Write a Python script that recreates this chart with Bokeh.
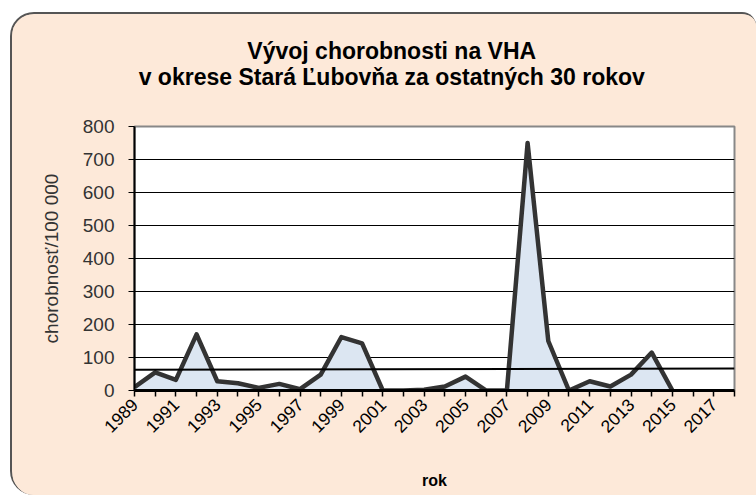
import numpy as np
from bokeh.plotting import figure
from bokeh.layouts import column
from bokeh.models import Range1d, FixedTicker
from bokeh.core.properties import value
from bokeh.embed import file_html
from bokeh.resources import INLINE
from math import pi

years = list(range(1989, 2016))
values = [10, 55, 32, 170, 28, 22, 8, 20, 4, 48, 162, 143, 0, 0, 2, 12,
          42, 0, 0, 750, 150, 0, 28, 12, 48, 115, 0]
trend_x = [1989, 2018]
trend_y = [63, 67]
x_ticks = list(range(1989, 2019))
y_ticks = list(range(0, 801, 100))
title_lines = ["Vývoj chorobnosti na VHA",
               "v okrese Stará Ľubovňa za ostatných 30 rokov"]

BG = "#fde9d9"
W = 744
TH = 100

# title strip (SVG text)
t = figure(width=W, height=TH, output_backend="svg", toolbar_location=None,
           x_range=Range1d(0, W), y_range=Range1d(0, TH),
           x_axis_location=None, y_axis_location=None, min_border=0)
t.grid.visible = False
t.outline_line_color = None
t.background_fill_color = BG
t.border_fill_color = BG
t.text(x=[319, 319], y=[TH - 36, TH - 62], text=title_lines, text_align="center",
       text_baseline="middle", text_font=value("Liberation Sans"),
       text_font_size="23px", text_font_style="bold", text_color="black")

p = figure(width=W, height=381, output_backend="svg", toolbar_location=None,
           x_range=Range1d(1989, 2018), y_range=Range1d(0, 800),
           min_border_left=122, min_border_right=22, min_border_top=12,
           min_border_bottom=105)
p.border_fill_color = BG
p.background_fill_color = "white"
p.outline_line_color = "#888888"
p.outline_line_width = 2

p.varea(x=years, y1=0, y2=values, fill_color="#dce6f2")
p.line(x=years, y=values, line_color="#333333", line_width=4.5, line_join="round")
p.line(x=trend_x, y=trend_y, line_color="black", line_width=2)

p.xgrid.visible = False
p.ygrid.ticker = FixedTicker(ticks=y_ticks)
p.ygrid.grid_line_color = "black"
p.ygrid.grid_line_width = 1
p.ygrid.grid_line_alpha = 1

p.yaxis.ticker = FixedTicker(ticks=y_ticks)
p.yaxis.axis_label = "chorobnosť/100 000"
p.yaxis.axis_label_text_font = "Liberation Sans"
p.yaxis.axis_label_text_font_size = "19px"
p.yaxis.axis_label_text_font_style = "normal"
p.yaxis.axis_label_text_color = "#333333"
p.yaxis.axis_label_standoff = 18
p.yaxis.major_label_text_font = "Liberation Sans"
p.yaxis.major_label_text_font_size = "19px"
p.yaxis.major_label_text_color = "#333333"
p.yaxis.major_label_standoff = 14
p.yaxis.major_tick_in = 0
p.yaxis.major_tick_out = 6
p.yaxis.minor_tick_line_color = None
p.yaxis.axis_line_color = "black"
p.yaxis.axis_line_width = 2
p.yaxis.major_tick_line_color = "black"

p.xaxis.ticker = FixedTicker(ticks=x_ticks)
p.xaxis.major_label_overrides = {y: (str(y) if (y - 1989) % 2 == 0 else "") for y in x_ticks}
p.xaxis.major_label_orientation = pi / 4
p.xaxis.major_label_text_font = "Liberation Sans"
p.xaxis.major_label_text_font_size = "17.5px"
p.xaxis.major_label_text_color = "black"
p.xaxis.major_tick_in = 0
p.xaxis.major_tick_out = 6
p.xaxis.minor_tick_line_color = None
p.xaxis.axis_line_color = "black"
p.xaxis.axis_line_width = 3
p.xaxis.major_tick_line_color = "black"
p.xaxis.major_tick_line_width = 1.5
p.xaxis.axis_label = "rok"
p.xaxis.axis_label_text_font = "Liberation Sans"
p.xaxis.axis_label_text_font_size = "16px"
p.xaxis.axis_label_text_font_style = "bold"
p.xaxis.axis_label_text_color = "black"
p.xaxis.axis_label_standoff = 31

layout = column(t, p, spacing=0)
layout.styles = {"margin-left": "10px", "margin-top": "12px",
                 "border-top": "2px solid #555555", "border-left": "2px solid #555555",
                 "border-top-left-radius": "24px", "border-bottom-left-radius": "24px",
                 "border-top-right-radius": "14px",
                 "overflow": "hidden", "background-color": BG}

open("out.html", "w").write(file_html(layout, INLINE))
